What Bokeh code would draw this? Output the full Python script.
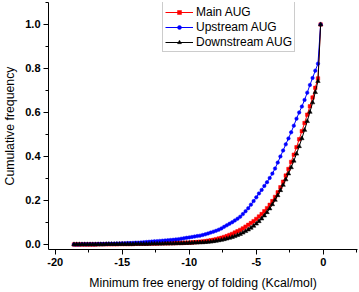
from bokeh.plotting import figure
from bokeh.models import Range1d, SingleIntervalTicker, PrintfTickFormatter, Legend, LegendItem
from bokeh.embed import file_html
from bokeh.resources import INLINE

# Minimum free energy of folding (Kcal/mol)
energy = [-18.6, -18.4, -18.2, -18.0, -17.8, -17.6, -17.4, -17.2, -17.0, -16.8,
          -16.6, -16.4, -16.2, -16.0, -15.8, -15.6, -15.4, -15.2, -15.0, -14.8,
          -14.6, -14.4, -14.2, -14.0, -13.8, -13.6, -13.4, -13.2, -13.0, -12.8,
          -12.6, -12.4, -12.2, -12.0, -11.8, -11.6, -11.4, -11.2, -11.0, -10.8,
          -10.6, -10.4, -10.2, -10.0, -9.8, -9.6, -9.4, -9.2, -9.0, -8.8,
          -8.6, -8.4, -8.2, -8.0, -7.8, -7.6, -7.4, -7.2, -7.0, -6.8,
          -6.6, -6.4, -6.2, -6.0, -5.8, -5.6, -5.4, -5.2, -5.0, -4.8,
          -4.6, -4.4, -4.2, -4.0, -3.8, -3.6, -3.4, -3.2, -3.0, -2.8,
          -2.6, -2.4, -2.2, -2.0, -1.8, -1.6, -1.4, -1.2, -1.0, -0.8,
          -0.6, -0.4, -0.2]

main_aug = [0.000, 0.000, 0.000, 0.000, 0.000, 0.000, 0.000, 0.000, 0.000, 0.001,
            0.001, 0.001, 0.001, 0.001, 0.001, 0.001, 0.001, 0.002, 0.002, 0.002,
            0.002, 0.002, 0.002, 0.003, 0.003, 0.003, 0.003, 0.003, 0.004, 0.004,
            0.004, 0.004, 0.005, 0.005, 0.005, 0.005, 0.006, 0.006, 0.006, 0.007,
            0.007, 0.007, 0.008, 0.008, 0.009, 0.010, 0.011, 0.012, 0.013, 0.015,
            0.017, 0.019, 0.021, 0.024, 0.027, 0.030, 0.034, 0.038, 0.043, 0.048,
            0.054, 0.060, 0.066, 0.073, 0.081, 0.089, 0.097, 0.106, 0.116, 0.127,
            0.138, 0.151, 0.165, 0.180, 0.197, 0.216, 0.237, 0.260, 0.285, 0.313,
            0.343, 0.375, 0.408, 0.442, 0.478, 0.515, 0.552, 0.590, 0.628, 0.668,
            0.712, 0.755, 1.000]

upstream_aug = [0.000, 0.000, 0.000, 0.001, 0.001, 0.001, 0.001, 0.001, 0.001, 0.002,
                0.002, 0.002, 0.002, 0.003, 0.003, 0.003, 0.004, 0.004, 0.005, 0.005,
                0.006, 0.006, 0.007, 0.008, 0.008, 0.009, 0.010, 0.011, 0.012, 0.013,
                0.014, 0.015, 0.016, 0.017, 0.018, 0.019, 0.020, 0.021, 0.023, 0.024,
                0.026, 0.028, 0.030, 0.032, 0.034, 0.036, 0.038, 0.040, 0.043, 0.046,
                0.050, 0.054, 0.058, 0.062, 0.067, 0.073, 0.080, 0.087, 0.094, 0.101,
                0.109, 0.117, 0.126, 0.138, 0.151, 0.165, 0.181, 0.197, 0.214, 0.232,
                0.248, 0.266, 0.283, 0.302, 0.322, 0.345, 0.372, 0.400, 0.427, 0.455,
                0.482, 0.510, 0.540, 0.572, 0.600, 0.627, 0.657, 0.690, 0.725, 0.757,
                0.790, 0.822, 1.000]

downstream_aug = [0.000, 0.000, 0.000, 0.000, 0.000, 0.000, 0.000, 0.000, 0.000, 0.000,
                  0.000, 0.000, 0.001, 0.001, 0.001, 0.001, 0.001, 0.001, 0.001, 0.001,
                  0.001, 0.001, 0.001, 0.002, 0.002, 0.002, 0.002, 0.002, 0.002, 0.003,
                  0.003, 0.003, 0.003, 0.003, 0.004, 0.004, 0.004, 0.004, 0.005, 0.005,
                  0.005, 0.006, 0.006, 0.007, 0.007, 0.008, 0.008, 0.009, 0.009, 0.010,
                  0.011, 0.012, 0.014, 0.016, 0.018, 0.020, 0.023, 0.026, 0.029, 0.033,
                  0.037, 0.042, 0.047, 0.053, 0.060, 0.067, 0.075, 0.084, 0.094, 0.105,
                  0.117, 0.131, 0.146, 0.163, 0.182, 0.202, 0.223, 0.246, 0.270, 0.295,
                  0.322, 0.350, 0.380, 0.412, 0.446, 0.482, 0.520, 0.560, 0.602, 0.645,
                  0.692, 0.742, 1.000]

series_labels = ["Main AUG", "Upstream AUG", "Downstream AUG"]
x_title = "Minimum free energy of folding (Kcal/mol)"
y_title = "Cumulative frequency"

FONT = "Liberation Sans"

p = figure(width=359, height=292, output_backend="svg", toolbar_location=None,
           x_range=Range1d(-20.5, 2.55), y_range=Range1d(-0.023, 1.1),
           min_border_left=41, min_border_right=2, min_border_top=2, min_border_bottom=43)
p.outline_line_color = None
p.grid.visible = False
p.background_fill_color = "white"
p.border_fill_color = "white"

p.xaxis.ticker = SingleIntervalTicker(interval=5, num_minor_ticks=2)
p.yaxis.ticker = SingleIntervalTicker(interval=0.2, num_minor_ticks=2)
p.xaxis.formatter = PrintfTickFormatter(format="%d")
p.yaxis.formatter = PrintfTickFormatter(format="%.1f")
p.xaxis.axis_label = x_title
p.yaxis.axis_label = y_title

for ax in (p.xaxis, p.yaxis):
    ax.axis_line_color = "black"
    ax.axis_line_width = 1
    ax.major_tick_line_color = "black"
    ax.minor_tick_line_color = "black"
    ax.major_tick_out = 5
    ax.major_tick_in = 0
    ax.minor_tick_out = 3
    ax.minor_tick_in = 0
    ax.major_label_text_font = FONT
    ax.major_label_text_font_style = "bold"
    ax.major_label_text_font_size = "11px"
    ax.major_label_text_color = "black"
    ax.major_label_standoff = 3
    ax.axis_label_text_font = FONT
    ax.axis_label_text_font_style = "normal"
    ax.axis_label_text_font_size = "12.3px"
    ax.axis_label_text_color = "black"
p.xaxis.axis_label_standoff = 7
p.yaxis.axis_label_standoff = 5

l1 = p.line(energy, main_aug, line_color="red", line_width=1)
s1 = p.scatter(energy, main_aug, marker="square", size=3.5, line_width=0.5, color="red")
l2 = p.line(energy, upstream_aug, line_color="blue", line_width=1)
s2 = p.scatter(energy, upstream_aug, marker="circle", size=3.5, line_width=0.5, color="blue")
l3 = p.line(energy, downstream_aug, line_color="black", line_width=1)
s3 = p.scatter(energy, downstream_aug, marker="triangle", size=4.5, line_width=0.5, color="black")

legend = Legend(items=[LegendItem(label=series_labels[0], renderers=[l1, s1]),
                       LegendItem(label=series_labels[1], renderers=[l2, s2]),
                       LegendItem(label=series_labels[2], renderers=[l3, s3])],
                location=(114, 197))
legend.border_line_color = "#999999"
legend.border_line_width = 1
legend.background_fill_color = "white"
legend.background_fill_alpha = 1
legend.padding = 2
legend.spacing = 0
legend.margin = 0
legend.label_height = 15
legend.glyph_height = 10
legend.glyph_width = 28
legend.label_standoff = 3
legend.label_text_font = FONT
legend.label_text_font_size = "12px"
legend.label_text_color = "black"
p.add_layout(legend)

open("out.html", "w").write(file_html(p, INLINE))
